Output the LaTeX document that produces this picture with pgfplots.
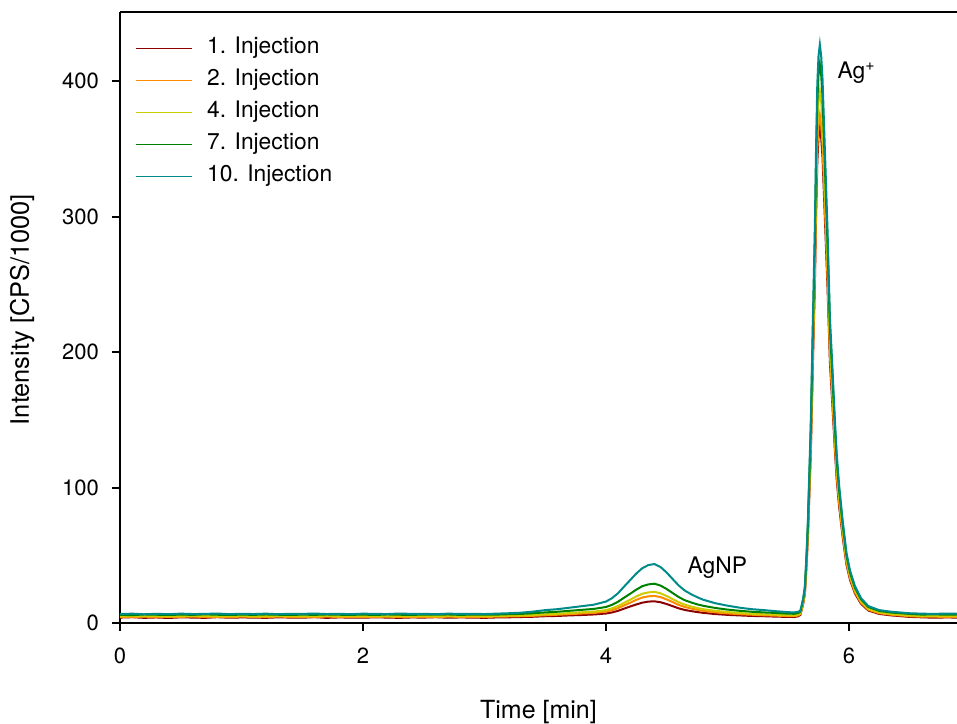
\documentclass[border=0pt]{standalone}
\usepackage{pgfplots}
\pgfplotsset{compat=1.18}
\usepackage{pgfplotstable}
\usepackage{fontspec}
\setmainfont{TeX Gyre Heros}
\definecolor{c1}{RGB}{139,0,0}
\definecolor{c2}{RGB}{255,140,0}
\definecolor{c4}{RGB}{204,204,0}
\definecolor{c7}{RGB}{0,128,0}
\definecolor{c10}{RGB}{0,139,139}
\pgfplotstableread{
x r o y g t
0.0 4.0 4.5 5.0 6.0 6.6
0.1 4.3 4.4 5.2 5.8 6.9
0.2 3.8 4.7 4.9 6.3 6.4
0.3 4.1 4.3 5.3 6.1 6.8
0.4 3.7 4.6 4.8 5.9 6.5
0.5 4.2 4.5 5.1 6.2 6.9
0.6 4.0 4.8 5.0 6.0 6.6
0.7 3.8 4.4 5.3 6.4 6.7
0.8 4.3 4.6 4.9 6.1 7.0
0.9 3.9 4.3 5.1 5.9 6.5
1.0 4.1 4.7 5.2 6.2 6.8
1.1 4.0 4.5 4.8 6.0 6.6
1.2 3.8 4.4 5.1 6.3 6.9
1.3 4.2 4.7 5.0 6.1 6.5
1.4 4.0 4.5 5.2 5.9 6.8
1.5 3.9 4.6 4.9 6.2 6.7
1.6 4.3 4.4 5.1 6.0 7.0
1.7 3.8 4.7 5.3 6.3 6.6
1.8 4.1 4.5 4.9 6.1 6.8
1.9 4.0 4.3 5.2 6.0 6.5
2.0 3.9 4.6 5.0 6.2 6.9
2.1 4.2 4.5 5.1 5.9 6.7
2.2 4.0 4.7 4.8 6.3 6.6
2.3 3.8 4.4 5.2 6.1 7.0
2.4 4.1 4.6 5.0 6.0 6.7
2.5 4.0 4.5 5.3 6.2 6.8
2.6 4.3 4.3 4.9 6.1 6.5
2.7 3.9 4.7 5.1 6.3 6.9
2.8 4.1 4.5 5.0 6.0 6.7
2.9 4.0 4.6 5.2 6.2 6.8
3.0 3.8 4.4 5.0 6.1 6.6
3.1 4.1 4.7 5.2 6.2 6.9
3.2 4.2 4.8 5.4 6.5 7.2
3.3 4.4 5.0 5.5 6.7 7.6
3.4 4.6 5.3 5.9 7.2 8.4
3.5 5.0 5.7 6.4 7.8 9.5
3.6 5.2 6.1 6.8 8.3 10.2
3.7 5.6 6.5 7.3 9.0 11.3
3.8 5.9 7.0 7.9 9.7 12.4
3.9 6.3 7.4 8.4 10.4 13.5
4.0 7.0 8.4 9.5 11.8 15.8
4.05 7.8 9.5 10.8 13.4 18.3
4.1 9.0 11.0 12.6 15.7 22.0
4.15 10.6 13.0 14.9 18.7 26.9
4.2 12.2 15.0 17.2 21.6 31.7
4.25 13.7 17.1 19.6 24.6 36.5
4.3 15.0 18.8 21.6 27.2 40.5
4.35 15.8 19.7 22.6 28.5 42.8
4.4 16.0 20.0 23.0 29.0 43.5
4.45 15.3 19.1 21.9 27.6 41.3
4.5 14.0 17.4 19.9 25.1 37.2
4.55 12.4 15.4 17.6 22.1 32.4
4.6 10.8 13.3 15.3 19.1 27.6
4.65 9.6 11.8 13.5 16.8 23.9
4.7 8.8 10.7 12.2 15.2 21.3
4.75 8.1 9.8 11.1 13.8 19.1
4.8 7.5 9.0 10.2 12.7 17.2
4.9 6.6 7.9 9.0 11.1 14.6
5.0 6.0 7.1 8.1 9.9 12.8
5.1 5.6 6.5 7.3 9.0 11.3
5.2 5.2 6.1 6.8 8.3 10.2
5.3 5.0 5.7 6.4 7.8 9.5
5.4 4.7 5.4 6.1 7.4 8.7
5.5 4.5 5.1 5.7 6.9 8.0
5.55 4.4 5.0 5.6 6.8 7.8
5.58 4.9 5.5 6.1 7.3 8.3
5.60 5.9 6.5 7.1 8.3 8.9
5.61 9.2 9.8 10.5 11.8 12.5
5.625 14.6 15.4 16.3 17.9 18.8
5.638 21.8 22.8 24.1 26.0 27.2
5.652 43.1 44.6 46.9 49.9 51.9
5.663 64.1 66.1 69.4 73.5 76.3
5.671 85.4 87.9 92.2 97.4 101.1
5.679 105.6 108.6 113.9 120.2 124.6
5.687 127.2 130.8 137.1 144.5 149.8
5.704 192.2 197.4 206.7 217.6 225.4
5.72 250.0 256.6 268.7 282.6 292.6
5.73 300.5 308.4 322.8 339.4 351.4
5.74 340.2 349.1 365.4 384.1 397.6
5.75 358.3 367.6 384.8 404.4 418.6
5.761 365.5 375.0 392.5 412.5 427.0
5.772 358.3 367.6 384.8 404.4 418.6
5.783 343.8 352.8 369.3 388.1 401.8
5.797 311.4 319.5 334.5 351.6 364.0
5.811 278.9 286.2 299.6 315.1 326.2
5.824 248.2 254.8 266.7 280.6 290.5
5.844 192.2 197.4 206.7 217.6 225.4
5.865 159.7 164.1 171.9 181.1 187.6
5.885 127.2 130.8 137.1 144.5 149.8
5.90 105.6 108.6 113.9 120.2 124.6
5.92 85.7 88.3 92.6 97.9 101.5
5.948 64.1 66.1 69.4 73.5 76.3
5.98 43.1 44.6 46.9 49.9 51.9
6.01 31.6 32.8 34.5 37.0 38.5
6.05 21.8 22.8 24.1 26.0 27.2
6.1 14.2 15.0 15.9 17.5 18.3
6.16 9.2 9.8 10.5 11.8 12.5
6.25 6.7 7.2 7.8 8.9 9.5
6.35 5.6 6.1 6.7 7.7 8.3
6.5 4.5 5.0 5.5 6.7 7.2
6.6 4.2 4.6 5.2 6.2 6.9
6.7 3.9 4.7 5.0 6.4 6.7
6.8 4.1 4.4 5.3 6.1 7.0
6.9 4.0 4.6 5.1 6.3 6.8
}\datatable
\begin{document}
\begin{tikzpicture}
\begin{axis}[
  name=ax,
  scale only axis,
  width=418.5pt, height=305.5pt,
  xmin=0, xmax=6.89, ymin=0, ymax=451,
  axis x line*=bottom, axis y line*=left,
  axis line style={line width=1pt, black},
  tick align=outside,
  major tick length=4pt,
  tick style={line width=1pt, black},
  xtick={0,2,4,6}, ytick={0,100,200,300,400},
  /pgf/number format/assume math mode=true,
  ticklabel style={font=\fontsize{11}{13}\selectfont},
  xticklabel style={yshift=-5pt},
  yticklabel style={xshift=-3pt},
  every axis x label/.style={at={(axis description cs:0.5,-0.1457)}, anchor=center, font=\fontsize{12.5}{15}\selectfont},
  every axis y label/.style={at={(axis description cs:-0.117,0.513)}, rotate=90, anchor=center, font=\fontsize{12.7}{15}\selectfont},
  xlabel={Time [min]},
  ylabel={Intensity [CPS/1000]},
  legend cell align=left,
  legend style={draw=none, fill=none, at={(axis description cs:0.018,0.965)}, anchor=north west,
    font=\fontsize{11.4}{13}\selectfont, row sep=1.5pt, inner sep=0pt,
    nodes={inner sep=2pt, text height=8pt, text depth=2.5pt}},
  legend image code/.code={\draw[#1, line width=0.75pt] (0pt,0pt) -- (28pt,0pt); \path (33pt,0pt);},
  every axis plot/.append style={line width=1pt},
]
\addplot[c1] table[x=x, y=r] {\datatable};
\addlegendentry{1. Injection}
\addplot[c2] table[x=x, y=o] {\datatable};
\addlegendentry{2. Injection}
\addplot[c4] table[x=x, y=y] {\datatable};
\addlegendentry{4. Injection}
\addplot[c7] table[x=x, y=g] {\datatable};
\addlegendentry{7. Injection}
\addplot[c10] table[x=x, y=t] {\datatable};
\addlegendentry{10. Injection}
\draw[line width=1pt] (rel axis cs:0,1) -- (rel axis cs:1,1);
\node[anchor=west, font=\fontsize{11.4}{13}\selectfont] at (axis cs:5.85,406) {Ag\textsuperscript{+}};
\node[anchor=west, font=\fontsize{11.4}{13}\selectfont] at (axis cs:4.615,40.5) {AgNP};
\end{axis}
\path (ax.south west) ++(-60pt,-50.5pt) coordinate (bl);
\path (ax.north east) ++(0pt,6pt) coordinate (tr);
\pgfresetboundingbox
\useasboundingbox (bl) rectangle (tr);
\end{tikzpicture}
\end{document}
